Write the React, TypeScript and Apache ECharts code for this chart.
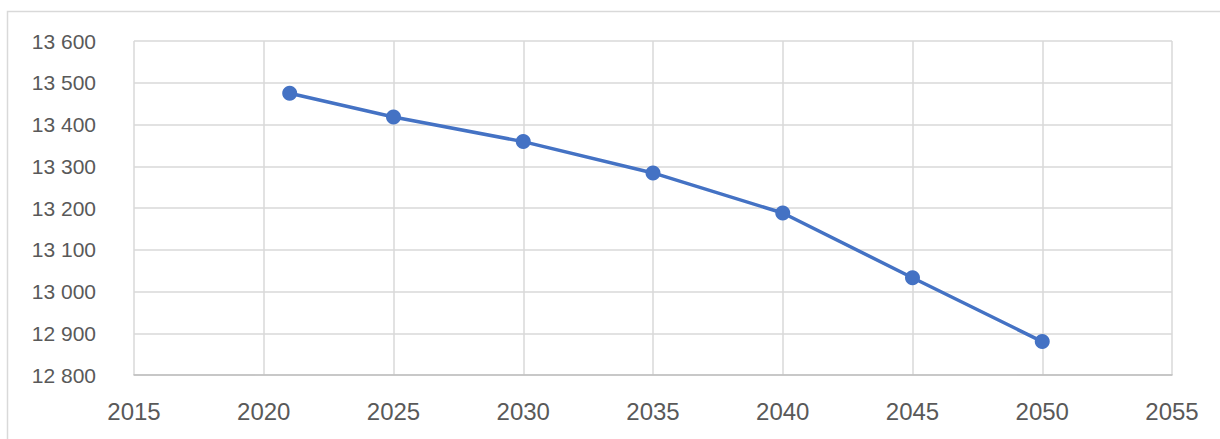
import React, { useEffect, useRef } from "react";
import * as echarts from "echarts";

const years = [2021, 2025, 2030, 2035, 2040, 2045, 2050];
const values = [13475, 13418, 13359, 13284, 13188, 13033, 12880];
const xMin = 2015;
const xMax = 2055;
const yMin = 12800;
const yMax = 13600;

const fmt = (v: number) => {
  const th = Math.floor(v / 1000);
  const rest = String(Math.round(v % 1000)).padStart(3, "0");
  return `${th} ${rest}`;
};

export default function App() {
  const ref = useRef<HTMLDivElement>(null);
  useEffect(() => {
    const chart = echarts.init(ref.current!, null, { renderer: "svg" });
    chart.setOption({
      animation: false,
      backgroundColor: "#ffffff",
      graphic: [
        {
          type: "rect",
          shape: { x: 7.5, y: 11.5, width: 1240, height: 460 },
          style: { fill: "none", stroke: "#d9d9d9", lineWidth: 1.5 },
          silent: true,
        },
      ],
      grid: { left: 134, top: 41, right: 48, bottom: 64 },
      xAxis: {
        type: "value",
        min: xMin,
        max: xMax,
        interval: 5,
        axisLine: { show: true, lineStyle: { color: "#bfbfbf", width: 1.5 } },
        axisTick: { show: false },
        splitLine: { show: true, lineStyle: { color: "#d9d9d9", width: 1.5 } },
        axisLabel: {
          color: "#595959",
          fontSize: 24,
          fontFamily: "Liberation Sans",
          margin: 24,
          formatter: (v: number) => String(v),
        },
      },
      yAxis: {
        type: "value",
        min: yMin,
        max: yMax,
        interval: 100,
        axisLine: { show: false },
        axisTick: { show: false },
        splitLine: { show: true, lineStyle: { color: "#d9d9d9", width: 1.5 } },
        axisLabel: {
          color: "#595959",
          fontSize: 21,
          fontFamily: "Liberation Sans",
          margin: 38,
          formatter: (v: number) => fmt(v),
        },
      },
      series: [
        {
          type: "line",
          data: years.map((y, i) => [y, values[i]]),
          symbol: "circle",
          symbolSize: 15,
          lineStyle: { color: "#4472C4", width: 3.5 },
          itemStyle: { color: "#4472C4" },
        },
      ],
    });
    return () => chart.dispose();
  }, []);
  return (
    <div
      ref={ref}
      style={{ position: "absolute", left: 0, top: 0, width: 1220, height: 439 }}
    />
  );
}
